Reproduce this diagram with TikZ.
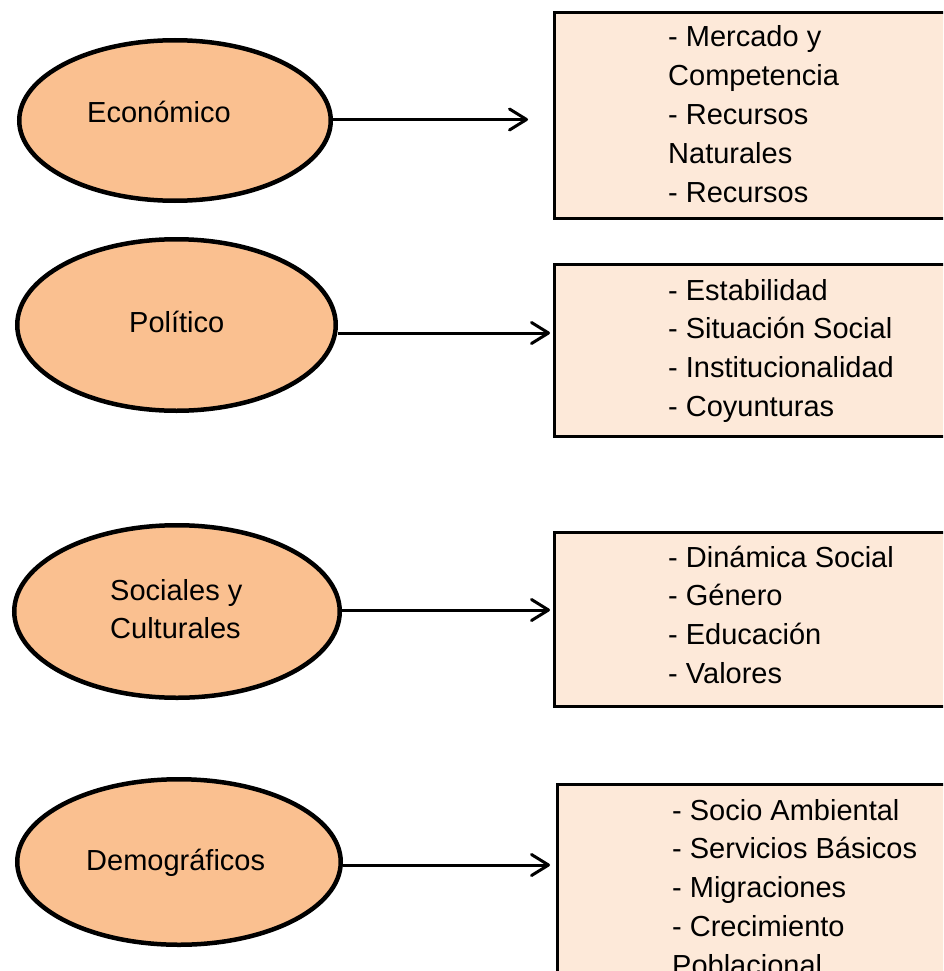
\documentclass[tikz,border=0pt]{standalone}
\usepackage{fontspec}
\setmainfont{Liberation Sans}
\usetikzlibrary{arrows.meta,shapes.geometric}

\definecolor{ovalfill}{HTML}{FAC090}
\definecolor{boxfill}{HTML}{FDE9D9}

\tikzset{
  oval/.style={ellipse, draw=black, line width=4.5pt, fill=ovalfill, inner sep=0pt},
  panel/.style={rectangle, draw=black, line width=2.7pt, fill=boxfill, inner sep=0pt, anchor=north west},
  lbl/.style={anchor=base west, inner sep=0pt, font=\fontsize{29}{38.8}\selectfont},
  conn/.style={line width=3pt, -{Straight Barb[length=17pt,width=21pt,round]}},
}
\newcommand{\itemlines}[1]{\begin{tabular}[t]{@{}l@{}}#1\end{tabular}}

\begin{document}
\begin{tikzpicture}[x=1pt, y=-1pt]
  \useasboundingbox (0,0) rectangle (943,971);
  \clip (0,0) rectangle (943,971);

  % factor ovals
  \node[oval, minimum width=311.5pt, minimum height=160.5pt] (e1) at (175,120.5) {};
  \node[oval, minimum width=318.5pt, minimum height=171.5pt] (e2) at (176.5,325) {};
  \node[oval, minimum width=325.5pt, minimum height=172.5pt] (e3) at (177,611.5) {};
  \node[oval, minimum width=323.5pt, minimum height=165.5pt] (e4) at (179,862) {};

  \node[lbl] (t1) at (87,122) {Económico};
  \node[lbl] (t2) at (129,332) {Político};
  \node[lbl] (t3) at (110,600) {\itemlines{Sociales y\\Culturales}};
  \node[lbl] (t4) at (86,870) {Demográficos};

  % detail panels (right and lower edges run past the frame)
  \node[panel, minimum width=400pt, minimum height=206pt] (b1) at (553,11) {};
  \node[panel, minimum width=400pt, minimum height=172pt] (b2) at (553,263) {};
  \node[panel, minimum width=400pt, minimum height=174pt] (b3) at (553,531) {};
  \node[panel, minimum width=400pt, minimum height=220pt] (b4) at (556,783) {};

  \node[lbl] (d1) at (668,47) {\itemlines{- Mercado y\\Competencia\\- Recursos\\Naturales\\- Recursos}};
  \node[lbl] (d2) at (668,300) {\itemlines{- Estabilidad\\- Situación Social\\- Institucionalidad\\- Coyunturas}};
  \node[lbl] (d3) at (668,567) {\itemlines{- Dinámica Social\\- Género\\- Educación\\- Valores}};
  \node[lbl] (d4) at (672,820) {\itemlines{- Socio Ambiental\\- Servicios Básicos\\- Migraciones\\- Crecimiento\\Poblacional}};

  % connectors
  \coordinate (p1) at (528,119.5);
  \coordinate (p2) at (550,333);
  \coordinate (p3) at (550,610);
  \coordinate (p4) at (550,865);
  \draw[conn] (e1.east |- p1) -- (p1);
  \draw[conn] (e2.east |- p2) -- (p2);
  \draw[conn] (e3.east |- p3) -- (p3);
  \draw[conn] (e4.east |- p4) -- (p4);
\end{tikzpicture}
\end{document}
